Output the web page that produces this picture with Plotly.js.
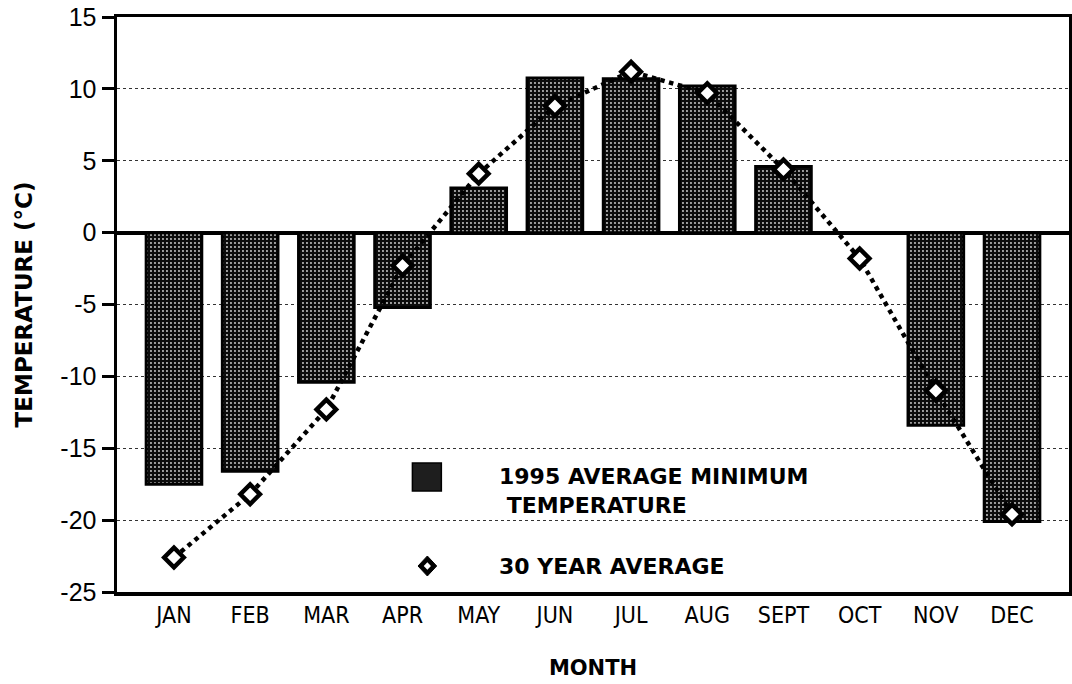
<!DOCTYPE html>
<html>
<head>
<meta charset="utf-8">
<script src="https://cdn.plot.ly/plotly-3.0.1.min.js"></script>
<style>
  html, body { margin: 0; padding: 0; background: #fff; }
  #chart { width: 1072px; height: 684px; }
</style>
</head>
<body>
<div id="chart"></div>
<script>
const months = ['JAN', 'FEB', 'MAR', 'APR', 'MAY', 'JUN', 'JUL', 'AUG', 'SEPT', 'OCT', 'NOV', 'DEC'];
const min1995 = [-17.5, -16.6, -10.4, -5.2, 3.1, 10.75, 10.7, 10.2, 4.6, 0, -13.4, -20.1];
const avg30 = [-22.6, -18.2, -12.3, -2.3, 4.1, 8.8, 11.2, 9.7, 4.4, -1.8, -11.0, -19.6];
const yTicks = [-25, -20, -15, -10, -5, 0, 5, 10, 15];
const yTickText = ['-25', '-20', '-15', '-10', '-5', '0', '5', '10', '15'];

const mainFont = 'Liberation Sans, Arial, Helvetica, sans-serif';
const boldFont = 'DejaVu Sans, Liberation Sans, Arial, sans-serif';
const narrowFont = 'DejaVu Sans Condensed, Liberation Sans Narrow, Arial Narrow, sans-serif';

let data = [
    {
        type: 'bar',
        x: months,
        y: min1995,
        name: '1995 AVERAGE MINIMUM TEMPERATURE',
        marker: {
            color: '#111',
            line: { color: '#000', width: 3 },
            pattern: {
                shape: '.',
                fgcolor: '#d0d0d0',
                bgcolor: '#0c0c0c',
                size: 4,
                solidity: 0.18,
            },
        },
        hoverinfo: 'y',
    },
    {
        type: 'scatter',
        mode: 'lines+markers',
        x: months,
        y: avg30,
        name: '30 YEAR AVERAGE',
        line: { color: '#000', width: 4.5, dash: 'dot' },
        marker: {
            symbol: 'diamond',
            size: 15,
            color: '#fff',
            line: { color: '#000', width: 4.5 },
        },
    },
];

// legend drawn by hand, placed inside the plot area (paper coords)
const legendShapes = [
    {
        type: 'rect', xref: 'paper', yref: 'paper',
        x0: 0.3103, x1: 0.3407, y0: 0.1757, y1: 0.2243,
        fillcolor: '#1e1e1e', line: { color: '#000', width: 1.5 },
    },
    {
        type: 'path', xref: 'paper', yref: 'paper',
        path: 'M 0.3162,0.0452 L 0.3260,0.0626 L 0.3358,0.0452 L 0.3260,0.0278 Z',
        fillcolor: '#000', line: { color: '#000', width: 1 },
    },
    {
        type: 'path', xref: 'paper', yref: 'paper',
        path: 'M 0.3222,0.0452 L 0.3260,0.0518 L 0.3298,0.0452 L 0.3260,0.0386 Z',
        fillcolor: '#fff', line: { color: '#fff', width: 0 },
    },
];

let layout = {
    width: 1072,
    height: 684,
    margin: { l: 117, r: 3, t: 17, b: 92 },
    paper_bgcolor: '#fff',
    plot_bgcolor: '#fff',
    showlegend: false,
    bargap: 0.27,
    font: { family: mainFont, color: '#000' },

    xaxis: {
        type: 'category',
        showline: true,
        linewidth: 3.5,
        linecolor: '#000',
        mirror: true,
        ticks: '',
        showgrid: false,
        tickfont: { family: narrowFont, size: 23, color: '#000' },
        title: {
            text: '<b>MONTH</b>',
            font: { family: boldFont, size: 21, color: '#000' },
            standoff: 34,
        },
    },
    yaxis: {
        range: [-25, 15],
        tickvals: yTicks,
        ticktext: yTickText,
        ticks: 'outside',
        ticklen: 12,
        tickwidth: 3,
        tickcolor: '#000',
        showline: true,
        linewidth: 3.5,
        linecolor: '#000',
        mirror: true,
        showgrid: true,
        gridcolor: '#333',
        gridwidth: 1,
        griddash: '3px,3px',
        zeroline: true,
        zerolinecolor: '#000',
        zerolinewidth: 4,
        tickfont: { family: mainFont, size: 25, color: '#000' },
        title: {
            text: '<b>TEMPERATURE (°C)</b>',
            font: { family: boldFont, size: 23, color: '#000' },
            standoff: 22,
        },
    },

    shapes: legendShapes,

    annotations: [
        {
            xref: 'paper', yref: 'paper',
            x: 0.3994, y: 0.1757,
            xanchor: 'left', yanchor: 'middle', align: 'left',
            text: '<b>1995 AVERAGE MINIMUM<br>&nbsp;TEMPERATURE</b>',
            showarrow: false,
            font: { family: boldFont, size: 22, color: '#000' },
        },
        {
            xref: 'paper', yref: 'paper',
            x: 0.3994, y: 0.0452,
            xanchor: 'left', yanchor: 'middle',
            text: '<b>30 YEAR AVERAGE</b>',
            showarrow: false,
            font: { family: boldFont, size: 22, color: '#000' },
        },
    ],
};

let config = { staticPlot: true };

Plotly.newPlot(document.getElementById('chart'), data, layout, config);
</script>
</body>
</html>
